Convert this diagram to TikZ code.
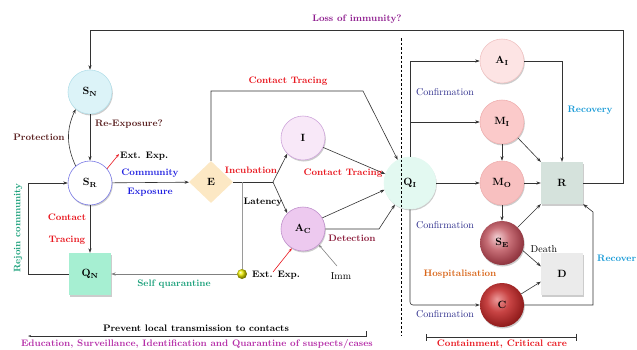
\documentclass[tikz,border=0pt]{standalone}
\usetikzlibrary{arrows.meta,shapes.geometric,shadows,calc}
\definecolor{snfill}{HTML}{DCF3F8}\definecolor{sndraw}{HTML}{B5E0EA}
\definecolor{srdraw}{HTML}{7B7BE6}
\definecolor{qnfill}{HTML}{A6EFD2}
\definecolor{efill}{HTML}{FCE8C4}
\definecolor{ifill}{HTML}{F8E8F8}\definecolor{idraw}{HTML}{CFA6DB}
\definecolor{acfill}{HTML}{EDC9EF}\definecolor{acdraw}{HTML}{C192CD}
\definecolor{qifill}{HTML}{E3F9F1}
\definecolor{aifill}{HTML}{FDE4E4}\definecolor{aidraw}{HTML}{F0C4C4}
\definecolor{mifill}{HTML}{FBCACA}\definecolor{midraw}{HTML}{EFB0B0}
\definecolor{mofill}{HTML}{F8C0C0}
\definecolor{rfill}{HTML}{D5E2DC}
\definecolor{dfill}{HTML}{EBEBEB}
\definecolor{linec}{HTML}{333333}
\definecolor{grayline}{HTML}{9A9A9A}
\definecolor{cred}{HTML}{E8141C}
\definecolor{cblue}{HTML}{1F1FE0}
\definecolor{cgreen}{HTML}{1AA07A}
\definecolor{cpurple}{HTML}{8E1C8E}
\definecolor{cmagenta}{HTML}{B52EA8}
\definecolor{cnavy}{HTML}{2E2E8C}
\definecolor{ccyan}{HTML}{1A9BD7}
\definecolor{corange}{HTML}{D9661A}
\definecolor{cmaroon}{HTML}{8C1D3C}
\definecolor{cbrown}{HTML}{5A2020}
\definecolor{sehi}{HTML}{F3D0D4}\definecolor{semid}{HTML}{C87078}
\definecolor{seedge}{HTML}{9A3E48}\definecolor{sedark}{HTML}{7A2A34}
\definecolor{chi}{HTML}{EC9A9A}\definecolor{cmid}{HTML}{C84444}
\definecolor{cedge}{HTML}{9A2222}\definecolor{cdark}{HTML}{7A1212}
\pgfdeclareradialshading{seball}{\pgfpoint{-6bp}{7bp}}{color(0bp)=(sehi); color(13bp)=(semid); color(25bp)=(seedge); color(32bp)=(sedark); color(50bp)=(sedark)}
\pgfdeclareradialshading{cball}{\pgfpoint{-6bp}{7bp}}{color(0bp)=(chi); color(13bp)=(cmid); color(25bp)=(cedge); color(32bp)=(cdark); color(50bp)=(cdark)}
\begin{document}
\begin{tikzpicture}[x=1pt,y=-1pt,
  lbl/.style={font=\fontsize{9.4}{10}\selectfont\bfseries, inner sep=0pt},
  rlbl/.style={font=\fontsize{10}{11}\selectfont, inner sep=0pt},
  shd/.style={drop shadow={shadow xshift=0.8pt, shadow yshift=-1.5pt, opacity=0.2, fill=black}},
  circ/.style={circle, minimum size=44pt, inner sep=0pt, line width=0.6pt, font=\fontsize{10.5}{11}\selectfont\bfseries, shd},
  sq/.style={rectangle, minimum size=42pt, inner sep=0pt, font=\fontsize{10.5}{11}\selectfont\bfseries, shd},
  arr/.style={-{Stealth[length=4.5pt,width=3.2pt]}, draw=linec, line width=0.6pt},
  ln/.style={draw=linec, line width=0.6pt}]
\useasboundingbox (0,0) rectangle (637,349);

% nodes
\node[circ, fill=snfill, draw=sndraw] (SN) at (90,92) {S\textsubscript{N}};
\node[circ, fill=white, draw=srdraw] (SR) at (90,183) {S\textsubscript{R}};
\node[sq, fill=qnfill] (QN) at (90,274) {Q\textsubscript{N}};
\node[diamond, minimum width=44pt, minimum height=42pt, inner sep=0pt, fill=efill, font=\fontsize{10.5}{11}\selectfont\bfseries] (E) at (211,182) {E};
\node[circ, fill=ifill, draw=idraw] (I) at (303,138) {I};
\node[circ, fill=acfill, draw=acdraw] (AC) at (303,229) {A\textsubscript{C}};
\node[circ, minimum size=52pt, fill=qifill, draw=qifill] (QI) at (410,183) {Q\textsubscript{I}};
\node[circ, fill=aifill, draw=aidraw] (AI) at (502,61) {A\textsubscript{I}};
\node[circ, fill=mifill, draw=midraw] (MI) at (502,122) {M\textsubscript{I}};
\node[circ, fill=mofill, draw=midraw] (MO) at (502,183) {M\textsubscript{O}};
\node[circle, minimum size=44pt, inner sep=0pt, shading=seball, font=\fontsize{10.5}{11}\selectfont\bfseries, shd] (SE) at (502,243) {S\textsubscript{E}};
\node[circle, minimum size=44pt, inner sep=0pt, shading=cball, font=\fontsize{10.5}{11}\selectfont\bfseries, shd] (C) at (502,305) {C};
\node[sq, fill=rfill] (R) at (562,183) {R};
\node[sq, fill=dfill] (D) at (562,274) {D};
\node[circle, minimum size=10pt, inner sep=0pt, ball color=yellow!85!olive] (Y) at (242,274) {};

% dashed divider
\coordinate (DV1) at (401,38);
\coordinate (DV2) at (401,336);
\draw[black, line width=1pt, dash pattern=on 2.5pt off 2pt] (DV1) -- (DV2);

% loss of immunity
\coordinate (L1) at (623,30);
\draw[arr] (R.east) -| (L1) -| (SN.north);
\node[lbl, text=cpurple] (loss) at (357,19) {Loss of immunity?};

% left part
\draw[arr] (SN) -- (SR);
\node[lbl, text=cbrown] (reexp) at (129,124) {Re-Exposure?};
\draw[arr] (SR.130) to[bend left=25] (SN.230);
\node[lbl, text=cbrown] (prot) at (39,137) {Protection};
\coordinate (EX1) at (119,154);
\draw[-{Stealth[length=3.5pt,width=2.6pt]}, cred, line width=0.6pt] (SR.40) -- (EX1);
\node[lbl, anchor=west] (ext1) at (120,156) {Ext. Exp.};
\draw[arr] (SR) -- (E);
\node[lbl, text=cblue] (comm) at (150,173) {Community};
\node[lbl, text=cblue] (expo) at (150,192) {Exposure};
\draw[arr] (SR) -- (QN);
\node[lbl, text=cred] (cont) at (67,217) {Contact};
\node[lbl, text=cred] (trac) at (67,240) {Tracing};
\coordinate (RJ) at (28,183);
\draw[arr] (QN.west) -| (RJ) -- (SR.west);
\node[lbl, text=cgreen, rotate=90] (rejoin) at (18,228) {Rejoin community};

% E to QI contact tracing
\coordinate (CT) at (363,91);
\draw[arr] (E.north) |- (CT) -- (QI.118);
\node[lbl, text=cred] (ct1) at (288,81) {Contact Tracing};

% branch
\coordinate (BR) at (273,182);
\coordinate (SQ) at (242,182);
\draw[ln] (E.east) -- (BR);
\draw[arr] (BR) -- (I.225);
\draw[arr] (BR) -- (AC.135);
\node[lbl, text=cred] (incub) at (251,170) {Incubation};
\node[lbl] (lat) at (263,202) {Latency};
\draw[grayline, line width=0.6pt] (SQ) -- (Y);
\draw[-{Stealth[length=4.5pt,width=3.2pt]}, draw=gray, line width=0.6pt] (Y) -- (QN.east);
\node[lbl, text=cgreen] (selfq) at (174,284) {Self quarantine};
\node[lbl] (ext2) at (276,275) {Ext. Exp.};
\coordinate (EX2) at (273,272);
\draw[-{Stealth[length=3.5pt,width=2.6pt]}, cred, line width=0.6pt] (EX2) -- (AC.240);
\node[rlbl] (imm) at (341,276) {Imm};
\coordinate (IM) at (337,266);
\draw[-{Stealth[length=3.5pt,width=2.6pt]}, gray, line width=0.6pt] (IM) -- (AC.-45);

% to QI
\draw[arr] (I.-25) -- (QI.160);
\draw[arr] (AC.30) -- (QI.195);
\coordinate (DT) at (379,229);
\draw[arr] (AC.east) -- (DT) -- (QI.235);
\node[lbl, text=cmaroon] (detec) at (352,238) {Detection};
\node[lbl, text=cred] (ct2) at (343,173) {Contact Tracing};

% confirmation branches
\coordinate (CF1) at (410,61);
\coordinate (CF2) at (410,122);
\coordinate (CF3) at (410,305);
\draw[ln] (QI.north) -- (CF1);
\draw[arr] (CF1) -- (AI.west);
\draw[arr] (CF2) -- (MI.west);
\draw[arr] (QI.east) -- (MO.west);
\draw[arr, rounded corners=3pt] (QI.south) -- (CF3) -- (C.west);
\node[rlbl, text=cnavy] (conf1) at (445,92) {Confirmation};
\node[rlbl, text=cnavy] (conf2) at (445,225) {Confirmation};
\node[rlbl, text=cnavy] (conf3) at (445,314) {Confirmation};

% right part
\draw[arr] (AI.east) -| (R.north);
\node[lbl, text=ccyan] (recov) at (590,110) {Recovery};
\draw[arr] (MI) -- (MO);
\draw[arr] (MI.-45) -- (R.north west);
\draw[arr] (MO) -- (R);
\draw[arr] (MO) -- (SE);
\draw[arr] (SE.45) -- (R.south west);
\draw[arr] (SE.-20) -- (D.160);
\node[rlbl] (death) at (544,249) {Death};
\draw[arr] (C.30) -- (D.200);
\coordinate (RC) at (593,305);
\coordinate (RC2) at (593,212);
\draw[arr] (C.east) -- (RC) -- (RC2) -- (R.south east);
\node[lbl, text=ccyan, anchor=west] (recov2) at (597,258) {Recover};
\node[lbl, text=corange] (hosp) at (460,274) {Hospitalisation};

% bottom
\node[lbl] (prev) at (196,328) {Prevent local transmission to contacts};
\coordinate (B1) at (28,336);
\coordinate (B2) at (366,336);
\coordinate (B3) at (366,331);
\draw[-{Stealth[length=3pt,width=2pt]}, linec, line width=0.8pt] (B3) -- (B2) -- (B1);
\node[lbl, text=cmagenta] (edu) at (197,344) {Education, Surveillance, Identification and Quarantine of suspects/cases};
\coordinate (K1) at (426,337);
\coordinate (K2) at (577,337);
\draw[{Bar[width=7pt]}-{Bar[width=7pt]}, linec, line width=0.9pt] (K1) -- (K2);
\node[lbl, text=cred] (cont2) at (502,344) {Containment, Critical care};
\end{tikzpicture}
\end{document}
